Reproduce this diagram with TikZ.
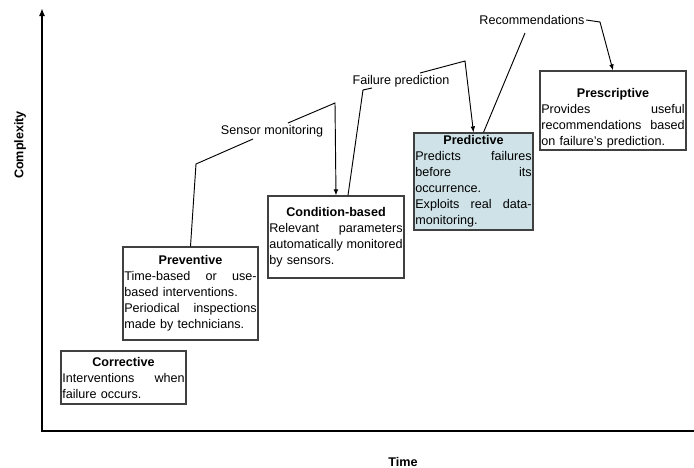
\documentclass[tikz,border=0pt]{standalone}
\usepackage{fontspec}
\setmainfont{Liberation Sans}
\usepackage{tikz}
\usetikzlibrary{arrows.meta,calc}
\definecolor{maintblue}{RGB}{207,226,231}
\definecolor{maintgray}{RGB}{64,64,64}
\setlength{\parindent}{0pt}
\newcommand{\boxhead}[1]{\hfill\textbf{#1}\hfill\null\\}

\begin{document}
\begin{tikzpicture}[
    x=0.75pt,y=-0.75pt,
    font=\fontsize{9.45}{12}\selectfont,
    stage/.style={draw=maintgray,line width=0.9pt,fill=white,align=left,inner xsep=1pt,inner ysep=1pt},
    lbl/.style={inner sep=1pt},
    link/.style={line width=0.7pt},
    tip/.style={-{Latex[length=4.5pt,width=3.5pt]}},
    axis/.style={line width=1.4pt}
  ]
  \useasboundingbox (0,0) rectangle (694,468);

  % axes
  \coordinate (origin) at (42,431);
  \draw[axis,-{Latex[length=6pt,width=4.5pt]}] (694,431) -- (origin) -- (42,8);
  \node[font=\fontsize{9.45}{12}\selectfont\bfseries,rotate=90] (ylab) at (20,145) {Complexity};
  \node[font=\fontsize{9.45}{12}\selectfont\bfseries] (xlab) at (403,462) {Time};

  % maintenance stages
  \node[stage,text width=91.75pt,minimum height=39.75pt] (corr) at (123.5,377.5)
    {\boxhead{Corrective}Interventions\hfill when\\failure occurs.};
  \node[stage,text width=99.25pt,minimum height=69.75pt] (prev) at (190.5,293.5)
    {\boxhead{Preventive}Time-based\hfill or\hfill use-\\based interventions.\\Periodical\hfill inspections\\made by technicians.};
  \node[stage,text width=100pt,minimum height=61.5pt] (cond) at (336,237)
    {\boxhead{Condition-based}Relevant\hfill parameters\\automatically\hfill monitored\\by sensors.};
  \node[stage,fill=maintblue,text width=87.25pt,minimum height=72.75pt] (pred) at (473.5,181.5)
    {\boxhead{Predictive}Predicts\hfill failures\\before\hfill its\\occurrence.\\Exploits\hfill real\hfill data-\\monitoring.};
  \node[stage,text width=107.5pt,minimum height=59.25pt] (presc) at (613,110.5)
    {\null\\[7pt]\boxhead{Prescriptive}Provides\hfill useful\\recommendations\hfill based\\on failure's prediction.};

  % transitions
  \node[lbl] (sensor) at (272,131) {Sensor monitoring};
  \node[lbl] (fail) at (401,81) {Failure prediction};
  \node[lbl] (rec) at (532,20) {Recommendations};

  \draw[link] (prev.north) -- (196,164) -- ($(sensor)+(-19,8)$);
  \draw[link,tip] ($(sensor)+(16,-8)$) -- (335,103) -- (cond.north);
  \draw[link] ($(cond.north)+(12,0)$) -- (363,90) -- ($(fail)+(-29,7)$);
  \draw[link,tip] ($(fail)+(19,-8)$) -- (465,61) -- (pred.north);
  \draw[link] ($(pred.north)+(10,0)$) -- ($(rec)+(-7,13)$);
  \draw[link,tip] (rec.east) -- (600,22) -- (presc.north);
\end{tikzpicture}
\end{document}
